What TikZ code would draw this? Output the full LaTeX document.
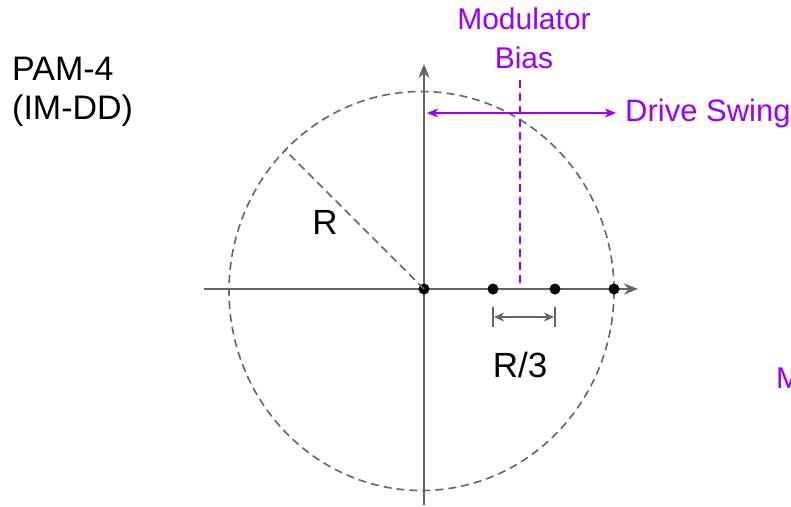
\documentclass[tikz,border=0pt]{standalone}
\usepackage{fontspec}
\setmainfont{Liberation Sans}
\usetikzlibrary{arrows.meta}
\definecolor{swingpurple}{HTML}{9900FF}
\definecolor{axisgray}{HTML}{666666}
\begin{document}
\begin{tikzpicture}[x=1pt, y=-1pt, >={Stealth[length=14pt, width=11pt]},
    every node/.style={inner sep=0pt},
    dot/.style={circle, fill=black, minimum size=11pt},
    axisline/.style={axisgray, line width=2pt},
    rimline/.style={axisgray, line width=1.6pt, dash pattern=on 8pt off 5pt}]
	\useasboundingbox (0,0) rectangle (791,506);
	% 1. 虚线圆与半径
	\draw[rimline] (421.5,291) ellipse [x radius=192.5, y radius=199.5];
	\coordinate (rim) at (285,150);

	% 2. 坐标轴
	\coordinate (xl) at (204,289);
	\coordinate (xr) at (638,289);
	\coordinate (yb) at (424,505);
	\coordinate (yt) at (424,64);
	\draw[axisline, ->] (xl) -- (xr);
	\draw[axisline, ->] (yb) -- (yt);

	% 3. 四个电平点
	\node[dot] (o) at (424,289) {};
	\node[dot] (p1) at (493,289) {};
	\node[dot] (p2) at (555,289) {};
	\node[dot] (p3) at (614,289) {};
	\draw[rimline] (o.center) -- (rim);

	% 4. R/3 间距标注
	\coordinate (d1) at (493,317);
	\coordinate (d2) at (555,317);
	\draw[axisgray, line width=1.8pt] ([yshift=-10pt]d1) -- ([yshift=10pt]d1);
	\draw[axisgray, line width=1.8pt] ([yshift=-10pt]d2) -- ([yshift=10pt]d2);
	\draw[axisgray, line width=1.6pt, {Stealth[length=10pt, width=9pt, inset=3pt]}-{Stealth[length=10pt, width=9pt, inset=3pt]}, shorten <=1pt, shorten >=1pt] (d1) -- (d2);

	% 5. 调制器偏置与驱动摆幅
	\coordinate (bt) at (520,80);
	\coordinate (bb) at (520,285);
	\draw[swingpurple, line width=1.7pt, dash pattern=on 8pt off 5pt] (bt) -- (bb);
	\coordinate (sl) at (427,113);
	\coordinate (sr) at (616,113);
	\draw[swingpurple, line width=1.7pt, {Stealth[length=11pt, width=9pt, inset=3pt]}-{Stealth[length=11pt, width=9pt, inset=3pt]}] (sl) -- (sr);

	% 6. 文字
	\node[anchor=west, align=left, font=\fontsize{34}{39}\selectfont] (title) at (12,92) {PAM-4\\(IM-DD)};
	\node[align=center, text=swingpurple, font=\fontsize{30}{39}\selectfont] (bias) at (524,38) {Modulator\\Bias};
	\node[anchor=west, text=swingpurple, font=\fontsize{31}{36}\selectfont] (swing) at (625,113) {Drive Swing};
	\node[font=\fontsize{35}{40}\selectfont] (rlabel) at (325,222) {R};
	\node[font=\fontsize{35}{40}\selectfont] (thirdlabel) at (520,365) {R/3};
	\node[anchor=west, text=swingpurple, font=\fontsize{30}{36}\selectfont] (cut) at (776,378) {M};
\end{tikzpicture}
\end{document}
